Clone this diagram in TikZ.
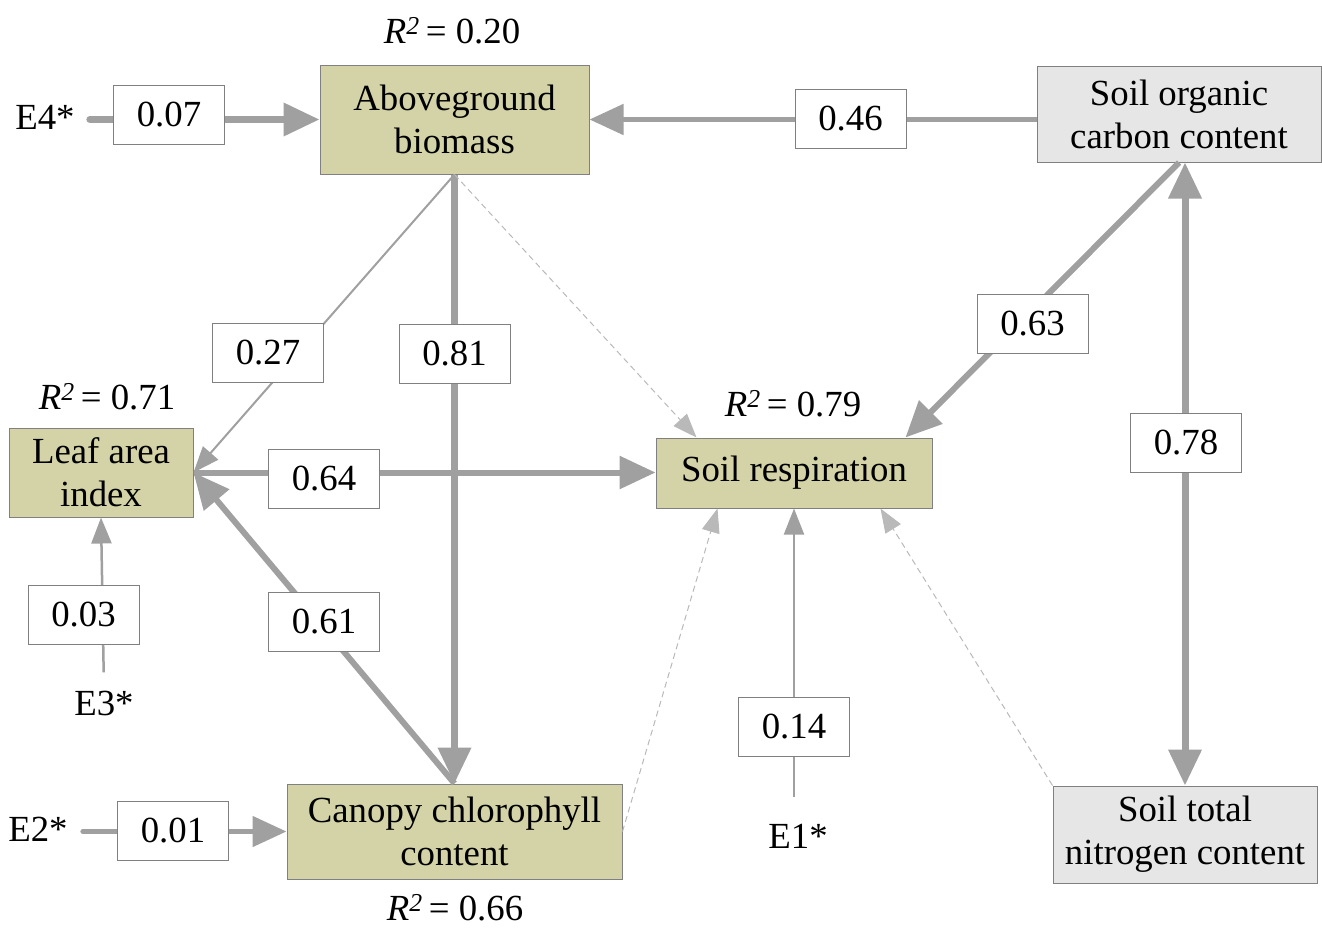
\documentclass[tikz,border=0pt]{standalone}
\usepackage{fontspec}
\setmainfont{Liberation Serif}
\usetikzlibrary{arrows.meta,calc}
\definecolor{olivefill}{RGB}{212,211,167}
\definecolor{lgray}{RGB}{230,230,230}
\definecolor{edgec}{RGB}{160,160,160}
\definecolor{dashc}{RGB}{185,185,185}
\definecolor{bordc}{RGB}{128,128,128}
\begin{document}
\begin{tikzpicture}[x=1pt,y=-1pt,
 font=\fontsize{36.8}{43}\selectfont,
 var/.style={draw=bordc, line width=1pt, align=center, inner sep=0pt},
 olv/.style={var, fill=olivefill},
 gry/.style={var, fill=lgray},
 lbl/.style={draw=bordc, line width=0.8pt, fill=white, minimum width=111pt, minimum height=59pt, inner sep=0pt},
 txt/.style={inner sep=0pt},
 bigarr/.style={draw=edgec, line width=7pt, -{Triangle[length=36pt,width=32pt]}},
 midarr/.style={draw=edgec, line width=5pt, -{Triangle[length=34pt,width=30pt]}},
 thinarr/.style={draw=edgec, line width=2pt, -{Triangle[length=26pt,width=20pt]}},
 dasharr/.style={draw=dashc, line width=1pt, dash pattern=on 6pt off 4pt, -{Triangle[length=24pt,width=18pt]}},
 dblarr/.style={draw=edgec, line width=7pt, {Triangle[length=36pt,width=32pt]}-{Triangle[length=36pt,width=32pt]}},
]
\useasboundingbox (0,0) rectangle (1322,927);

% variables
\node[olv, minimum width=269pt, minimum height=109pt] (AGB) at (454.5,119.5) {Aboveground\\biomass};
\node[gry, minimum width=284pt, minimum height=96pt] (SOC) at (1179,114) {Soil organic\\carbon content};
\node[olv, minimum width=184pt, minimum height=89pt] (LAI) at (101,472.5) {Leaf area\\index};
\node[olv, minimum width=276pt, minimum height=70pt] (SR) at (794,473) {Soil respiration};
\node[olv, minimum width=335pt, minimum height=95pt] (CCC) at (454.5,831.5) {Canopy chlorophyll\\content};
\node[gry, minimum width=264pt, minimum height=97pt] (STN) at (1185,834.5) {Soil total\\nitrogen content};

% R^2
\node[txt] (rAGB) at (452,31) {\textit{R\textsuperscript{2}}\,= 0.20};
\node[txt] (rLAI) at (107,397) {\textit{R\textsuperscript{2}}\,= 0.71};
\node[txt] (rSR) at (793,404) {\textit{R\textsuperscript{2}}\,= 0.79};
\node[txt] (rCCC) at (455,908) {\textit{R\textsuperscript{2}}\,= 0.66};

% errors
\node[txt] (E4) at (45,117) {E4*};
\node[txt] (E3) at (104,703) {E3*};
\node[txt] (E2) at (38,829) {E2*};
\node[txt] (E1) at (798,836) {E1*};

% connectors
\draw[bigarr, line cap=round, shorten <=15pt] (E4.east |- AGB.west) -- (AGB.west);
\draw[midarr] (SOC.west |- AGB.east) -- (AGB.east);
\draw[thinarr] (AGB.south) -- (LAI.east);
\draw[bigarr] (AGB.south) -- (CCC.north);
\draw[dasharr] (AGB.south) -- ($(SR.north west)+(41,0)$);
\draw[bigarr, line width=6pt] (LAI.east) -- (SR.west |- LAI.east);
\draw[bigarr, line width=6pt] (CCC.north) -- (LAI.east);
\draw[dasharr] (CCC.east) -- ($(SR.south west)+(62,0)$);
\draw[thinarr, shorten <=27pt] (SR.south |- E1.north) -- (SR.south);
\draw[dasharr] (STN.north west) -- ($(SR.south east)+(-52,0)$);
\draw[bigarr, line width=6pt] (SOC.south) -- ($(SR.north east)+(-27,0)$);
\draw[dblarr] (STN.north |- SOC.south) -- (STN.north);
\draw[thinarr, line width=2.5pt, shorten <=18pt] (E3.north) -- (LAI.south);
\draw[midarr, line cap=round, shorten <=15pt] (E2.east |- CCC.west) -- (CCC.west);

% coefficient labels
\node[lbl] (l07) at (169,114.5) {0.07};
\node[lbl] (l46) at (850.5,119) {0.46};
\node[lbl] (l27) at (268,353) {0.27};
\node[lbl] (l81) at (454.5,353.5) {0.81};
\node[lbl] (l63) at (1032.5,323.5) {0.63};
\node[lbl] (l78) at (1186,443) {0.78};
\node[lbl] (l64) at (324,478.5) {0.64};
\node[lbl] (l03) at (83.5,615) {0.03};
\node[lbl] (l61) at (324,621.5) {0.61};
\node[lbl] (l14) at (794,726.5) {0.14};
\node[lbl] (l01) at (173,830.5) {0.01};
\end{tikzpicture}
\end{document}
